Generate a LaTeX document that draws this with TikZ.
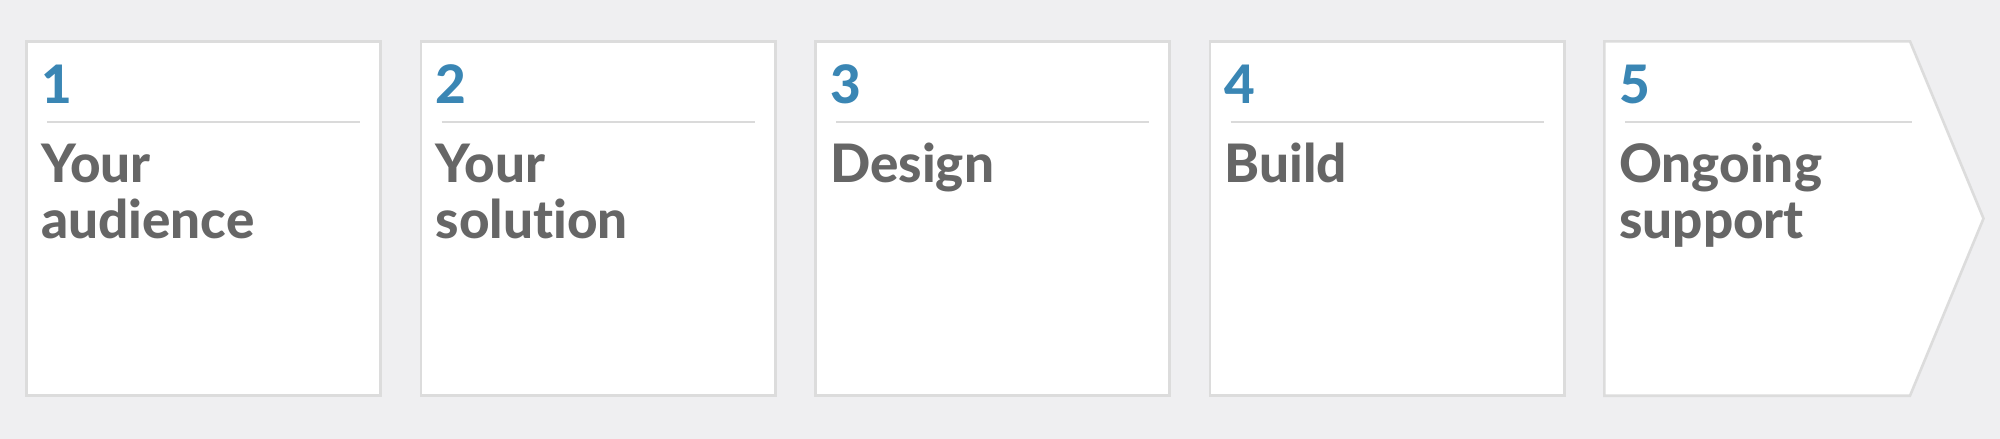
\documentclass[tikz,border=0pt]{standalone}
\usepackage{fontspec}
\setmainfont{Lato}[Ligatures=NoCommon, BoldFont={Lato Heavy}]
\definecolor{bgc}{RGB}{239,239,241}
\definecolor{edgec}{RGB}{220,220,220}
\definecolor{rulec}{RGB}{218,218,218}
\definecolor{numc}{RGB}{58,134,180}
\definecolor{txtc}{RGB}{102,102,102}
\newcommand{\twoln}[2]{\vtop{\baselineskip=56pt\hbox{#1}\hbox{#2}}}
\tikzset{
  stepbox/.style={draw=edgec, fill=white, line width=2.6pt, rectangle, inner sep=0pt,
    minimum width=354.4pt, minimum height=354.4pt},
  numtxt/.style={anchor=base west, inner sep=0pt, text=numc, font=\fontsize{53}{56}\selectfont\bfseries},
  labtxt/.style={anchor=base west, inner sep=0pt, text=txtc, font=\fontsize{53}{56}\selectfont\bfseries},
  rulel/.style={draw=rulec, line width=1.6pt}
}
\begin{document}
\begin{tikzpicture}[x=1pt,y=-1pt]
\useasboundingbox (0,0) rectangle (2000,439);
\fill[bgc] (0,0) rectangle (2000,439);
% boxes 1-4
\node[stepbox] (b1) at (203.5,218.5) {};
\node[stepbox] (b2) at (598,218.5) {};
\node[stepbox] (b3) at (992.5,218.5) {};
\node[stepbox] (b4) at (1387,218.5) {};
% box 5 (arrow shaped)
\draw[draw=edgec, fill=white, line width=2.6pt, line join=miter]
  (1604.3,41.3) coordinate (b5) -- (1910,41.3) -- (1983.5,218.5) coordinate (b5tip) -- (1910,395.7) -- (1604.3,395.7) -- cycle;
% contents
\foreach \i/\l/\r/\n/\t in {1/25/335/1/{\twoln{Your}{audience}}, 2/419.5/335/2/{\twoln{Your}{solution}}, 3/814/335/3/{Design}, 4/1208.5/335/4/{Build}, 5/1603/309/5/{\twoln{Ongoing}{support}}}{
  \node[numtxt] (n\i) at (\l+16,103) {\n};
  \coordinate (ra\i) at (\l+22,122);
  \coordinate (rb\i) at (\l+\r,122);
  \draw[rulel] (ra\i) -- (rb\i);
  \node[labtxt] (t\i) at (\l+16,182) {\t};
}
\end{tikzpicture}
\end{document}
